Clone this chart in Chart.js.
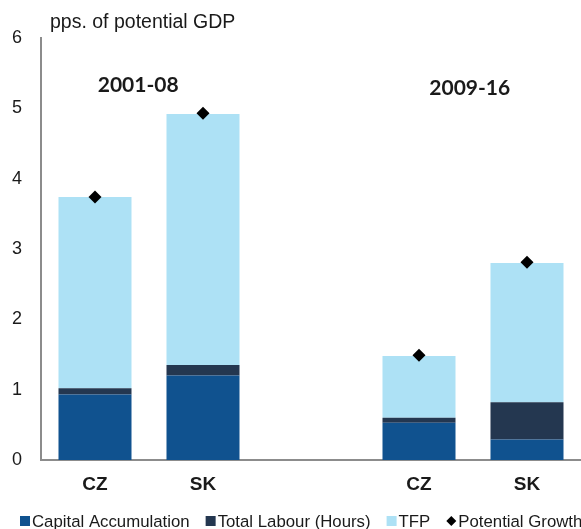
<!DOCTYPE html>
<html>
<head>
<meta charset="utf-8">
<script src="https://cdn.jsdelivr.net/npm/chart.js@4/dist/chart.umd.min.js"></script>
<style>
  html, body { margin: 0; padding: 0; background: #ffffff; }
  #wrap { width: 581px; height: 529px; position: relative; }
</style>
</head>
<body>
<div id="wrap"><canvas id="grafico"></canvas></div>
<script>
// dados (pps. do PIB potencial)
const paises = ["CZ", "SK", "", "CZ", "SK"];
const capital = [0.93, 1.20, null, 0.53, 0.29];
const trabalho = [0.09, 0.15, null, 0.07, 0.53];
const ptf = [2.72, 3.57, null, 0.88, 1.98];
const crescimento = [3.74, 4.93, null, 1.49, 2.81];
const periodos = ["2001-08", "2009-16"];
const nomesSeries = ["Capital Accumulation", "Total Labour (Hours)", "TFP", "Potential Growth"];
const ticksY = [0, 1, 2, 3, 4, 5, 6];

const corCapital = "#10528f";
const corTrabalho = "#243750";
const corPtf = "#ade1f5";
const corTexto = "#1a1a1a";
const fonteArial = "'Liberation Sans', Arial, sans-serif";

// textos soltos: unidade e períodos
const anotacoes = {
  id: "anotacoes",
  afterDraw(chart) {
    const ctx = chart.ctx;
    const x = chart.scales.x;
    const y = chart.scales.y;
    ctx.save();
    ctx.fillStyle = corTexto;
    ctx.textBaseline = "middle";
    ctx.font = "19.5px " + fonteArial;
    ctx.textAlign = "left";
    ctx.fillText("pps. of potential GDP", 50, 23);

    ctx.font = "bold 21px Lato, 'Open Sans', sans-serif";
    ctx.textAlign = "center";
    ctx.fillText(periodos[0], x.getPixelForValue(0.4), y.getPixelForValue(5.33));
    ctx.fillText(periodos[1], x.getPixelForValue(3.47), y.getPixelForValue(5.29));
    ctx.restore();
  }
};

// legenda desenhada à mão, caixas coladas ao texto
const legenda = {
  id: "legenda",
  afterDraw(chart) {
    const ctx = chart.ctx;
    const cores = [corCapital, corTrabalho, corPtf, "#000000"];
    let x = 20;
    const yc = 521;
    ctx.save();
    ctx.font = "16.8px " + fonteArial;
    ctx.textBaseline = "middle";
    ctx.textAlign = "left";
    nomesSeries.forEach(function (nome, i) {
      ctx.fillStyle = cores[i];
      if (i === 3) {
        ctx.beginPath();
        ctx.moveTo(x, yc);
        ctx.lineTo(x + 5, yc - 5);
        ctx.lineTo(x + 10, yc);
        ctx.lineTo(x + 5, yc + 5);
        ctx.closePath();
        ctx.fill();
      } else {
        ctx.fillRect(x, yc - 5, 10, 10);
      }
      ctx.fillStyle = corTexto;
      ctx.fillText(nome, x + 12, yc + 1);
      x += 12 + ctx.measureText(nome).width + 16;
    });
    ctx.restore();
  }
};

const ctxGrafico = document.getElementById("grafico");

const grafico = new Chart(ctxGrafico, {
  type: "bar",
  data: {
    labels: paises,
    datasets: [
      {
        label: nomesSeries[0],
        data: capital,
        backgroundColor: corCapital,
        categoryPercentage: 0.676,
        barPercentage: 1
      },
      {
        label: nomesSeries[1],
        data: trabalho,
        backgroundColor: corTrabalho,
        categoryPercentage: 0.676,
        barPercentage: 1
      },
      {
        label: nomesSeries[2],
        data: ptf,
        backgroundColor: corPtf,
        categoryPercentage: 0.676,
        barPercentage: 1
      },
      {
        type: "line",
        label: nomesSeries[3],
        data: crescimento,
        showLine: false,
        pointStyle: "rectRot",
        pointRadius: 6.5,
        pointHoverRadius: 6.5,
        pointBackgroundColor: "#000000",
        pointBorderWidth: 0,
        order: -1
      }
    ]
  },
  options: {
    responsive: true,
    maintainAspectRatio: false,
    animation: false,
    layout: {
      autoPadding: false,
      padding: { top: 38, right: 0, bottom: 29, left: 0 }
    },
    plugins: {
      legend: { display: false },
      tooltip: { enabled: false },
      title: { display: false }
    },
    scales: {
      x: {
        stacked: true,
        grid: { display: false },
        border: { color: "#8c8c8c", width: 2 },
        ticks: {
          color: corTexto,
          padding: 5,
          font: { family: fonteArial, size: 19, weight: "bold" }
        },
        afterFit(escala) { escala.height = 40; }
      },
      y: {
        stacked: true,
        min: 0,
        max: 6,
        grid: { display: false },
        border: { color: "#8c8c8c", width: 2 },
        afterBuildTicks(escala) {
          escala.ticks = ticksY.map(function (v) { return { value: v }; });
        },
        ticks: {
          color: corTexto,
          padding: 11,
          font: { family: fonteArial, size: 18 }
        },
        afterFit(escala) { escala.width = 41; }
      }
    }
  },
  plugins: [anotacoes, legenda]
});
</script>
</body>
</html>
